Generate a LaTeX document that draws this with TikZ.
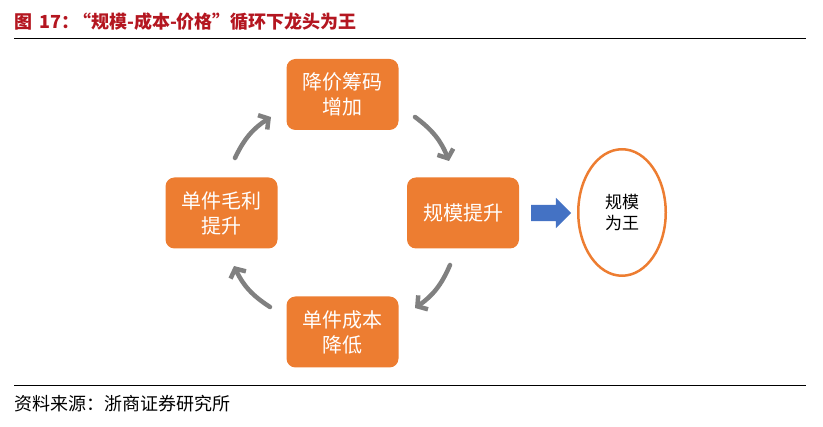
\documentclass[tikz,border=0pt]{standalone}
\usepackage{fontspec}
\newfontfamily\cjk{Noto Sans CJK SC}
\usetikzlibrary{arrows.meta,shapes.geometric,shapes.arrows}
\definecolor{boxorange}{RGB}{237,125,49}
\definecolor{cyclegray}{RGB}{128,128,128}
\definecolor{pushblue}{RGB}{68,114,196}
\definecolor{titlered}{RGB}{180,22,32}

\begin{document}
\begin{tikzpicture}[x=1pt,y=1pt,
  stagebox/.style={fill=boxorange,rounded corners=9pt,minimum width=112pt,minimum height=71pt,
    inner sep=0pt,text=white,align=center,font=\cjk\fontsize{20}{25}\selectfont},
  cycle/.style={-{Straight Barb[length=7pt,width=17pt]},line width=4.5pt,cyclegray,line cap=round,bend left=16},
  rule/.style={line width=1pt,black}
]
  \useasboundingbox (0,0) rectangle (823,-427);

  % heading and source
  \node[anchor=west,inner sep=0pt,text=titlered,font=\cjk\bfseries\fontsize{18}{22}\selectfont]
    (title) at (14,-21.5) {图\hspace{7pt}17：\hspace{-6pt}“规模-成本-价格”循环下龙头为王};
  \coordinate (topl) at (14,-39);
  \coordinate (topr) at (806,-39);
  \draw[rule] (topl) -- (topr);
  \coordinate (botl) at (14,-386);
  \coordinate (botr) at (806,-386);
  \draw[rule] (botl) -- (botr);
  \node[anchor=west,inner sep=0pt,font=\cjk\fontsize{18}{22}\selectfont]
    (source) at (14,-404) {资料来源：浙商证券研究所};

  % the cycle
  \node[stagebox] (margin) at (221.5,-213) {单件毛利\\提升};
  \node[stagebox] (chips) at (342.5,-94.5) {降价筹码\\增加};
  \node[stagebox] (scale) at (463,-213) {规模提升};
  \node[stagebox] (cost) at (342.5,-332) {单件成本\\降低};

  \coordinate (c1s) at (415,-117);  \coordinate (c1e) at (449,-161);
  \coordinate (c2s) at (450,-265);  \coordinate (c2e) at (415,-308);
  \coordinate (c3s) at (270,-307);  \coordinate (c3e) at (234,-266);
  \coordinate (c4s) at (235,-158);  \coordinate (c4e) at (271,-117);
  \draw[cycle] (c1s) to (c1e);
  \draw[cycle] (c2s) to (c2e);
  \draw[cycle] (c3s) to (c3e);
  \draw[cycle] (c4s) to (c4e);

  % result
  \node[single arrow,fill=pushblue,minimum height=40pt,inner xsep=0pt,inner ysep=8pt,
    single arrow head extend=7pt,single arrow head indent=0pt] (push) at (547,-213) {};
  \node[ellipse,draw=boxorange,line width=2.5pt,minimum width=87.5pt,minimum height=126.5pt,
    inner sep=0pt,align=center,font=\cjk\fontsize{17}{21}\selectfont] (king) at (622,-212.5) {规模\\为王};
\end{tikzpicture}
\end{document}
